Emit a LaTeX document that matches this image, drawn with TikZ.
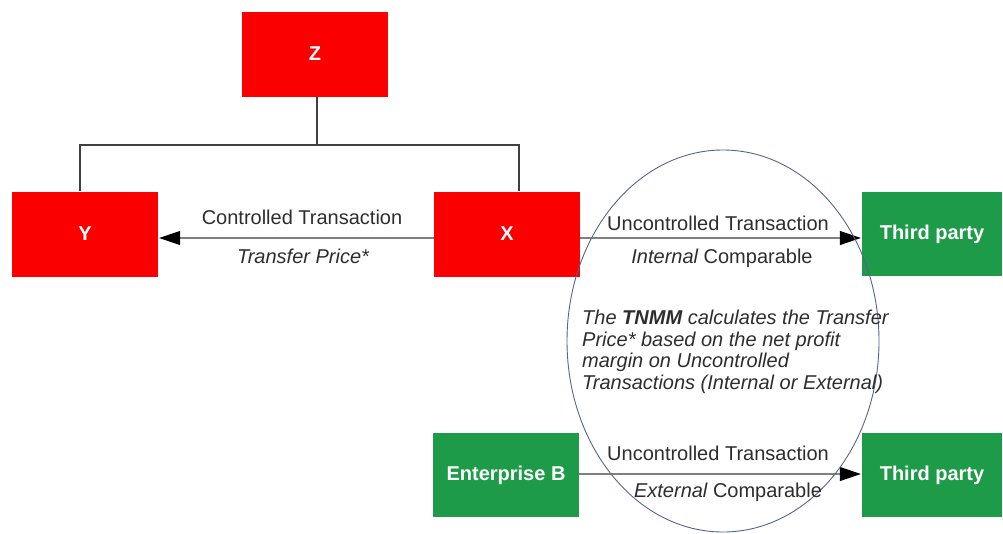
\documentclass[tikz,border=0pt]{standalone}
\usepackage{fontspec}
\setmainfont{Liberation Sans}
\usetikzlibrary{arrows.meta,shapes.geometric}
\definecolor{boxred}{RGB}{250,0,0}
\definecolor{boxgreen}{RGB}{30,155,72}
\definecolor{ellcol}{RGB}{85,100,140}
\definecolor{txtcol}{RGB}{45,45,45}
\begin{document}
\begin{tikzpicture}[x=1pt,y=-1pt,
  redbox/.style={fill=boxred,draw=none,minimum width=146pt,minimum height=85pt,inner sep=0pt,text=white,font=\fontsize{20}{22}\selectfont\bfseries},
  greenbox/.style={fill=boxgreen,draw=none,minimum height=84pt,inner sep=0pt,text=white,font=\fontsize{20}{22}\selectfont\bfseries},
  conn/.style={draw=black!75,line width=1.2pt},
  flow/.style={draw=black!50,line width=1.2pt,-{Triangle[length=21pt,width=14pt,color=black,fill=black]},shorten >=1pt},
  lbl/.style={text=txtcol,font=\fontsize{20}{22}\selectfont,inner sep=0pt}]
\useasboundingbox (0,0) rectangle (1003,533);
\node[redbox] (z) at (315,54) {Z};
\node[redbox] (y) at (85,234) {Y};
\node[redbox] (x) at (507,234) {X};
\node[greenbox,minimum width=140pt] (tp1) at (932,234) {Third party};
\node[greenbox,minimum width=146pt] (eb) at (506,475) {Enterprise B};
\node[greenbox,minimum width=140pt] (tp2) at (932,475) {Third party};
\coordinate (j) at (317,145);
\draw[conn] (z.south -| j) -- (j);
\draw[conn] (y.north -| 80,0) |- (j) -| (x.north -| 519,0);
\draw[flow] (x.west |- 0,238) -- (y.east |- 0,238);
\draw[flow] (x.east |- 0,238) -- (tp1.west |- 0,238);
\draw[flow] (eb.east |- 0,474) -- (tp2.west |- 0,474);
\node[draw=ellcol,line width=0.9pt,ellipse,minimum width=312pt,minimum height=382pt,inner sep=0pt] (ell) at (723,341) {};
\node[lbl] (ct) at (302,217) {Controlled Transaction};
\node[lbl] (tpr) at (303,256) {\itshape Transfer Price*};
\node[lbl] (ut1) at (718,223) {Uncontrolled Transaction};
\node[lbl] (ic) at (722,258) {\itshape Internal\upshape\ Comparable};
\node[lbl] (ut2) at (718,453) {Uncontrolled Transaction};
\node[lbl] (ec) at (728,492) {\itshape External\upshape\ Comparable};
\node[lbl,anchor=north west,align=left,font=\fontsize{20}{21.6}\selectfont\itshape] (note) at (582,310) {The \textbf{TNMM} calculates the Transfer\\Price* based on the net profit\\margin on Uncontrolled\\Transactions (Internal or External)};
\end{tikzpicture}
\end{document}
